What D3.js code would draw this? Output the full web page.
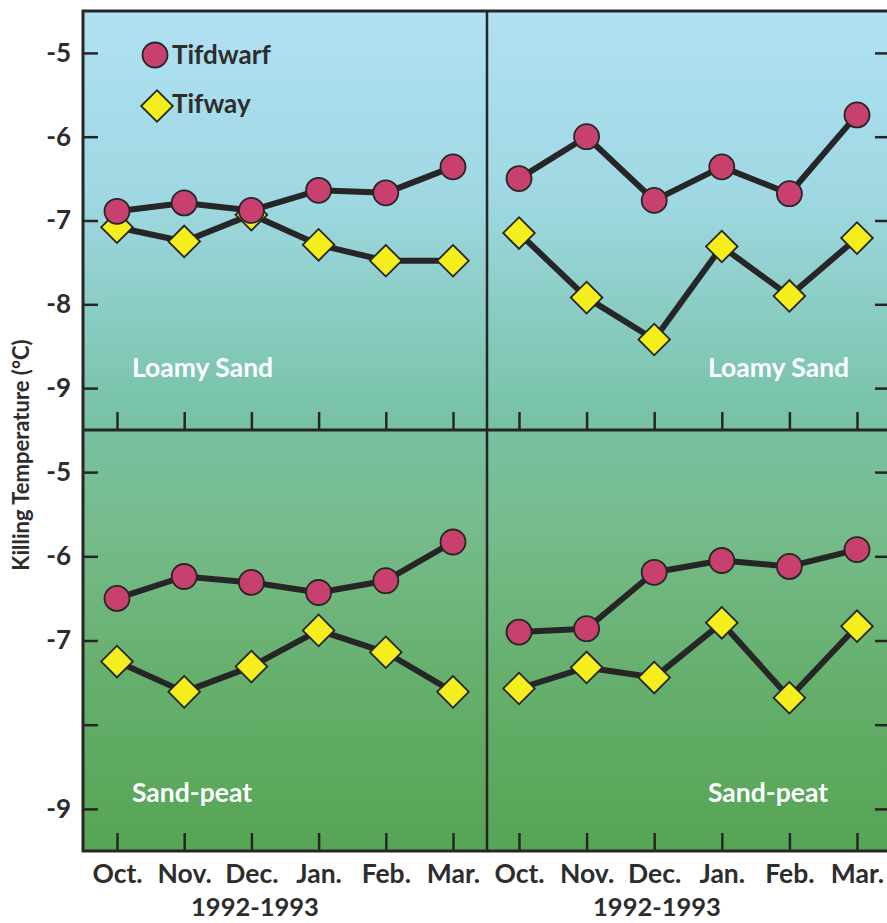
<!DOCTYPE html>
<html>
<head>
<meta charset="utf-8">
<script src="https://cdn.jsdelivr.net/npm/d3@7"></script>
<style>
  html, body { margin: 0; padding: 0; background: #ffffff; }
  svg { display: block; }
  text { font-family: Lato, "Open Sans", sans-serif; font-weight: 700; }
</style>
</head>
<body>
<div id="chart"></div>
<script>
// ---------------- data ----------------
const months = ["Oct.", "Nov.", "Dec.", "Jan.", "Feb.", "Mar."];
const yTickValues = [-5, -6, -7, -8, -9];
const seriesNames = ["Tifdwarf", "Tifway"];
const yearLabel = "1992-1993";

// Loamy Sand (top row)
const loamyLeftTifdwarf  = [-6.89, -6.79, -6.88, -6.64, -6.67, -6.36];
const loamyLeftTifway    = [-7.08, -7.25, -6.93, -7.29, -7.48, -7.48];
const loamyRightTifdwarf = [-6.50, -6.00, -6.76, -6.36, -6.68, -5.74];
const loamyRightTifway   = [-7.15, -7.92, -8.42, -7.31, -7.90, -7.21];

// Sand-peat (bottom row)
const peatLeftTifdwarf   = [-6.50, -6.24, -6.31, -6.43, -6.29, -5.83];
const peatLeftTifway     = [-7.25, -7.61, -7.31, -6.88, -7.14, -7.61];
const peatRightTifdwarf  = [-6.90, -6.86, -6.19, -6.05, -6.12, -5.92];
const peatRightTifway    = [-7.57, -7.32, -7.44, -6.79, -7.68, -6.83];

const panelLabels = ["Loamy Sand", "Loamy Sand", "Sand-peat", "Sand-peat"];

// ---------------- layout ----------------
const W = 887, H = 923;
const X0 = 83, XM = 487, X1 = 890;
const Y0 = 11, YM = 430, Y1 = 851;
const ink = "#262626";
const textInk = "#2d2d2d";

const svg = d3.select("#chart").append("svg")
  .attr("width", W).attr("height", H);

const defs = svg.append("defs");
const grad = defs.append("linearGradient")
  .attr("id", "bg").attr("gradientUnits", "userSpaceOnUse")
  .attr("x1", 0).attr("y1", Y0).attr("x2", 0).attr("y2", Y1);
[[0, "#b0e1f4"], [0.22, "#9fd8e2"], [0.45, "#7cc5ae"], [0.5, "#77c1a2"],
 [0.62, "#76bb8b"], [0.8, "#65af6c"], [1, "#56a454"]]
  .forEach(([o, c]) => grad.append("stop").attr("offset", o).attr("stop-color", c));

svg.append("rect")
  .attr("x", X0).attr("y", Y0).attr("width", X1 - X0).attr("height", Y1 - Y0)
  .attr("fill", "url(#bg)");

const panels = [
  { col: 0, row: 0, label: panelLabels[0], dwarf: loamyLeftTifdwarf,  way: loamyLeftTifway },
  { col: 1, row: 0, label: panelLabels[1], dwarf: loamyRightTifdwarf, way: loamyRightTifway },
  { col: 0, row: 1, label: panelLabels[2], dwarf: peatLeftTifdwarf,   way: peatLeftTifway },
  { col: 1, row: 1, label: panelLabels[3], dwarf: peatRightTifdwarf,  way: peatRightTifway }
];

const diamond = d3.symbol().type(d3.symbolSquare).size(500);

panels.forEach(p => {
  const px = p.col === 0 ? X0 : XM;
  const pw = p.col === 0 ? XM - X0 : X1 - XM;
  const py = p.row === 0 ? Y0 : YM;
  const ph = p.row === 0 ? YM - Y0 : Y1 - YM;

  const g = svg.append("g").attr("transform", `translate(${px},${py})`);

  const x = d3.scalePoint().domain(months)
    .range(p.col === 0 ? [34, 370] : [32, 370]);
  const y = d3.scaleLinear().domain([-9.5, -4.5]).range([ph, 0]);

  // x axis (ticks pointing up)
  const xa = g.append("g").attr("transform", `translate(0,${ph})`)
    .call(d3.axisBottom(x).tickSizeInner(-18).tickSizeOuter(0).tickPadding(13)
      .tickFormat(p.row === 1 ? (d => d) : (() => "")));
  xa.select(".domain").remove();
  xa.selectAll(".tick line").attr("stroke", ink).attr("stroke-width", 2.5);
  xa.selectAll(".tick text").attr("fill", textInk).attr("font-size", 26.5)
    .attr("font-family", "Lato, sans-serif").attr("font-weight", 700);

  // y axis
  if (p.col === 0) {
    const ya = g.append("g")
      .call(d3.axisLeft(y).tickValues(yTickValues).tickSizeInner(-15).tickSizeOuter(0).tickPadding(12)
        .tickFormat(d => (p.row === 1 && d === -8) ? "" : "-" + Math.abs(d)));
    ya.select(".domain").remove();
    ya.selectAll(".tick line").attr("stroke", ink).attr("stroke-width", 2.5);
    ya.selectAll(".tick text").attr("fill", textInk).attr("font-size", 26)
      .attr("font-family", "Lato, sans-serif").attr("font-weight", 700);
  } else {
    const ya = g.append("g").attr("transform", `translate(${pw},0)`)
      .call(d3.axisRight(y).tickValues(yTickValues).tickSizeInner(-15).tickSizeOuter(0)
        .tickFormat(() => ""));
    ya.select(".domain").remove();
    ya.selectAll(".tick line").attr("stroke", ink).attr("stroke-width", 2.5);
  }

  // panel label
  const labelX = p.col === 0 ? 49 : 221;
  const labelY = p.row === 0 ? 366 : 372;
  g.append("text").attr("x", labelX).attr("y", labelY)
    .attr("fill", "#ffffff").attr("font-size", 26.5).text(p.label);

  // lines
  const line = d3.line().x((d, i) => x(months[i])).y(d => y(d));
  g.append("path").datum(p.way).attr("d", line)
    .attr("fill", "none").attr("stroke", ink).attr("stroke-width", 6)
    .attr("stroke-linejoin", "round");
  g.append("path").datum(p.dwarf).attr("d", line)
    .attr("fill", "none").attr("stroke", ink).attr("stroke-width", 6)
    .attr("stroke-linejoin", "round");

  // markers
  g.selectAll(".way").data(p.way).enter().append("path")
    .attr("d", diamond)
    .attr("transform", (d, i) => `translate(${x(months[i])},${y(d)}) rotate(45)`)
    .attr("fill", "#f3ee1c").attr("stroke", ink).attr("stroke-width", 1.8);
  g.selectAll(".dwarf").data(p.dwarf).enter().append("circle")
    .attr("cx", (d, i) => x(months[i])).attr("cy", d => y(d)).attr("r", 12.5)
    .attr("fill", "#c8406e").attr("stroke", ink).attr("stroke-width", 1.8);

  // year label
  if (p.row === 1) {
    g.append("text").attr("x", p.col === 0 ? 172 : 170).attr("y", ph + 65)
      .attr("text-anchor", "middle").attr("fill", textInk).attr("font-size", 25.5)
      .text(yearLabel);
  }

  // legend (top-left panel)
  if (p.col === 0 && p.row === 0) {
    const lg = g.append("g");
    lg.append("circle").attr("cx", 72).attr("cy", 44).attr("r", 12.5)
      .attr("fill", "#c8406e").attr("stroke", ink).attr("stroke-width", 1.8);
    lg.append("text").attr("x", 89).attr("y", 53).attr("fill", textInk)
      .attr("font-size", 26).text(seriesNames[0]);
    lg.append("path").attr("d", diamond)
      .attr("transform", "translate(74,95) rotate(45)")
      .attr("fill", "#f3ee1c").attr("stroke", ink).attr("stroke-width", 1.8);
    lg.append("text").attr("x", 89).attr("y", 102).attr("fill", textInk)
      .attr("font-size", 26).text(seriesNames[1]);
  }
});

// frame and dividers
svg.append("rect").attr("x", X0).attr("y", Y0).attr("width", X1 - X0).attr("height", Y1 - Y0)
  .attr("fill", "none").attr("stroke", ink).attr("stroke-width", 3);
svg.append("line").attr("x1", X0).attr("x2", X1).attr("y1", YM).attr("y2", YM)
  .attr("stroke", ink).attr("stroke-width", 3);
svg.append("line").attr("x1", XM).attr("x2", XM).attr("y1", Y0).attr("y2", Y1)
  .attr("stroke", ink).attr("stroke-width", 2.5);

// y axis title
svg.append("text")
  .attr("transform", `translate(29,${455}) rotate(-90)`)
  .attr("text-anchor", "middle").attr("fill", textInk).attr("font-size", 22)
  .text("Killing Temperature (\u00B0C)");
</script>
</body>
</html>
